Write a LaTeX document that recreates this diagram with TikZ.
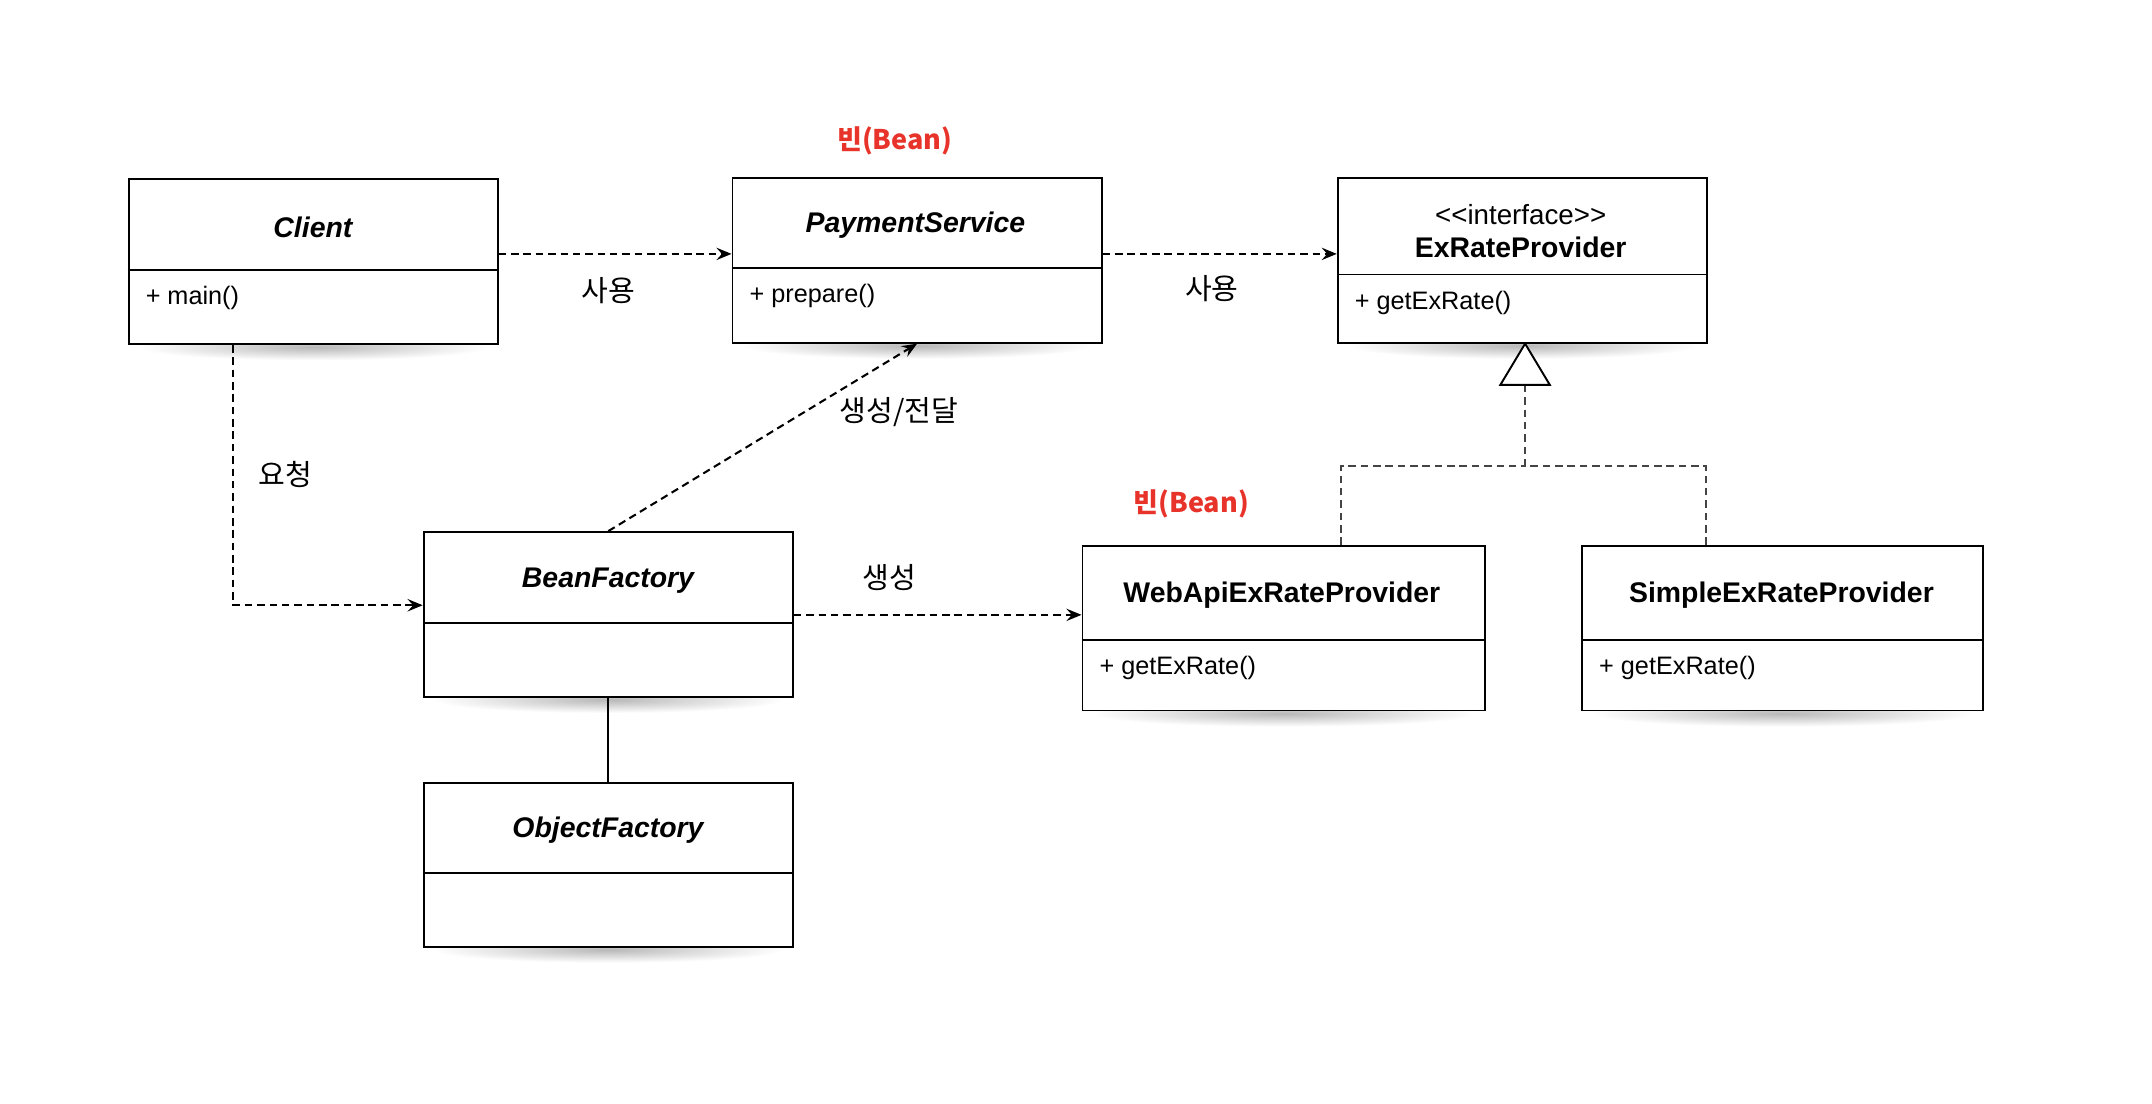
\documentclass[tikz,border=0pt]{standalone}
\usepackage{fontspec}
\setmainfont{Liberation Sans}
\newfontfamily\kr{Noto Sans CJK KR}
\usetikzlibrary{arrows.meta,fadings,calc}
\definecolor{beanred}{HTML}{E8332A}
\definecolor{realgray}{HTML}{444444}
\pgfdeclarelayer{background}
\pgfsetlayers{background,main}
\tikzfading[name=shadowglow, inner color=transparent!0, outer color=transparent!100]
\begin{document}
\begin{tikzpicture}[x=1pt,y=-1pt,
  cls/.style={draw=black, line width=1.4pt, fill=white, rectangle, inner sep=0pt},
  softshadow/.style={fill=black, fill opacity=0.28, path fading=shadowglow},
  divider/.style={draw=black, line width=1.4pt},
  title/.style={font=\fontsize{20.7}{24}\selectfont\bfseries\itshape, inner sep=0pt},
  ptitle/.style={font=\fontsize{20.7}{24}\selectfont\bfseries, inner sep=0pt},
  stereo/.style={font=\fontsize{20.2}{24}\selectfont, inner sep=0pt},
  member/.style={font=\fontsize{18.4}{22}\selectfont, inner sep=0pt, anchor=west},
  krlabel/.style={font=\kr\fontsize{21.2}{25}\selectfont, inner sep=0pt},
  beanlabel/.style={font=\kr\bfseries\fontsize{19.7}{24}\selectfont, text=beanred, inner sep=0pt},
  dep/.style={draw=black, line width=1.5pt, dash pattern=on 5.5pt off 3.5pt,
    -{Stealth[length=11pt,width=9pt,inset=4pt]}},
  assoc/.style={draw=black, line width=1.4pt},
  realline/.style={draw=realgray, line width=1.3pt, dash pattern=on 5.5pt off 3.5pt},
  realhead/.style={draw=black, line width=1.4pt, fill=white, line join=miter}
]
\useasboundingbox (0,0) rectangle (1568,804.4);

% class boxes
\node[cls, minimum width=269pt, minimum height=120pt, anchor=north west] (client) at (93,130) {};
\node[cls, minimum width=269pt, minimum height=120pt, anchor=north west] (pay) at (533,129) {};
\node[cls, minimum width=269pt, minimum height=120pt, anchor=north west] (exr) at (974,129) {};
\node[cls, minimum width=269pt, minimum height=120pt, anchor=north west] (bean) at (308,387) {};
\node[cls, minimum width=269pt, minimum height=119pt, anchor=north west] (obj) at (308,570) {};
\node[cls, minimum width=293pt, minimum height=120pt, anchor=north west] (web) at (788,397) {};
\node[cls, minimum width=292pt, minimum height=120pt, anchor=north west] (simple) at (1152,397) {};

% background and soft shadows
\begin{pgfonlayer}{background}
\fill[white] (0,0) rectangle (1568,804.4);
\foreach \b in {client,pay,exr,bean,obj,web,simple}{
  \path[softshadow] ($(\b.south west)+(8,-8)$) rectangle ($(\b.south east)+(-8,11)$);
}
\end{pgfonlayer}

% dividers
\draw[divider] (client.west |- 0,197) -- (client.east |- 0,197);
\draw[divider] (pay.west |- 0,195) -- (pay.east |- 0,195);
\draw[divider] (exr.west |- 0,200) -- (exr.east |- 0,200);
\draw[divider] (bean.west |- 0,454) -- (bean.east |- 0,454);
\draw[divider] (obj.west |- 0,636) -- (obj.east |- 0,636);
\draw[divider] (web.west |- 0,466) -- (web.east |- 0,466);
\draw[divider] (simple.west |- 0,466) -- (simple.east |- 0,466);

% titles and members
\node[title] (clientT) at (228,166) {Client};
\node[member] (clientM) at (106,217) {+ main()};
\node[title] (payT) at (667,164) {PaymentService};
\node[member] (payM) at (546,216) {+ prepare()};
\node[stereo] (exrS) at (1108,156) {<{}<interface>{}>};
\node[ptitle] (exrT) at (1108,180) {ExRateProvider};
\node[member] (exrM) at (987,221) {+ getExRate()};
\node[title] (beanT) at (443,423) {BeanFactory};
\node[title] (objT) at (443,605) {ObjectFactory};
\node[ptitle] (webT) at (934,434) {WebApiExRateProvider};
\node[member] (webM) at (801,487) {+ getExRate()};
\node[ptitle] (simpleT) at (1298,434) {SimpleExRateProvider};
\node[member] (simpleM) at (1165,487) {+ getExRate()};

% labels
\node[beanlabel] (bean1) at (652,103) {빈(Bean)};
\node[beanlabel] (bean2) at (868,367) {빈(Bean)};
\node[krlabel] (use1) at (443,212) {사용};
\node[krlabel] (use2) at (883,210) {사용};
\node[krlabel] (req) at (208,346) {요청};
\node[krlabel] (create1) at (655,300) {생성/전달};
\node[krlabel] (create2) at (648,421) {생성};

% dependencies
\draw[dep] (client.east |- 0,185) -- (pay.west |- 0,185);
\draw[dep] (pay.east |- 0,185) -- (exr.west |- 0,185);
\draw[dep] (client.south -| 170,0) |- (bean.west |- 0,441);
\draw[dep] (bean.north) -- (pay.south);
\draw[dep] (bean.east |- 0,448) -- (web.west |- 0,448);
\draw[assoc] (bean.south) -- (obj.north);

% realization
\coordinate (triTop) at ($(exr.south)+(2,0)$);
\coordinate (triBase) at ($(triTop)+(0,30)$);
\coordinate (junc) at ($(triTop)+(0,89)$);
\draw[realline] (triBase) -- (junc);
\draw[realline] (web.north -| 977,0) |- (junc);
\draw[realline] (simple.north -| 1243,0) |- (junc);
\draw[realhead] (triTop) -- ($(triBase)+(-18,0)$) -- ($(triBase)+(18,0)$) -- cycle;
\end{tikzpicture}
\end{document}
